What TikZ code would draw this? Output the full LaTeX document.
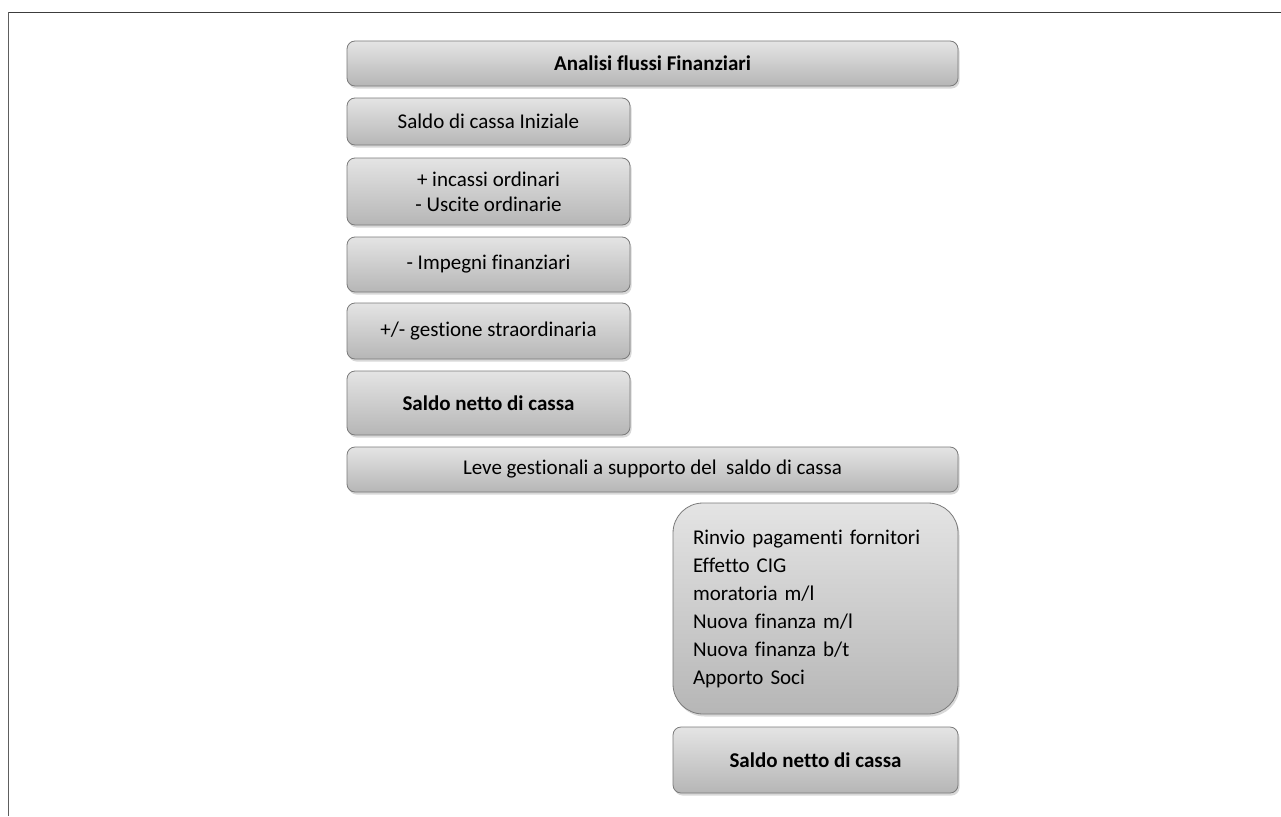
\documentclass[tikz,border=0pt]{standalone}
\usepackage{fontspec}
\setmainfont[Ligatures=NoCommon]{Carlito}
\usetikzlibrary{shadows}
\definecolor{boxtop}{HTML}{E4E4E4}
\definecolor{boxbot}{HTML}{B6B6B6}
\definecolor{boxline}{HTML}{7A7A7A}
\definecolor{framea}{HTML}{3C3C3C}
\definecolor{frameb}{HTML}{5E5E5E}
\tikzset{
  gbox/.style={rectangle, rounded corners=8pt, draw=boxline, line width=0.8pt,
    top color=boxtop, bottom color=boxbot, inner sep=0pt, outer sep=0pt,
    font=\fontsize{21}{25}\selectfont, align=center,
    drop shadow={opacity=0.3, shadow xshift=1.5pt, shadow yshift=-2.5pt}},
}
\begin{document}
\begin{tikzpicture}[x=1pt,y=-1pt]
\useasboundingbox[fill=white] (0,0) rectangle (1281,816);
\coordinate (fa) at (8.5,12.5);
\coordinate (fb) at (1281,12.5);
\coordinate (fc) at (8.5,816);
\draw[framea, line width=1.6pt] (fa) -- (fb);
\draw[frameb, line width=1.6pt] (fa) -- (fc);

\node[gbox, minimum width=611pt, minimum height=45pt] (title) at (652.5,63.5) {\bfseries Analisi flussi Finanziari};
\node[gbox, minimum width=283pt, minimum height=47pt] (s1) at (488.5,121.5) {Saldo di cassa Iniziale};
\node[gbox, minimum width=283pt, minimum height=67pt] (s2) at (488.5,191.5) {+ incassi ordinari\\- Uscite ordinarie};
\node[gbox, minimum width=283pt, minimum height=55pt] (s3) at (488.5,264.5) {- Impegni finanziari};
\node[gbox, minimum width=283pt, minimum height=56pt] (s4) at (488.5,331) {+/- gestione straordinaria};
\node[gbox, minimum width=283pt, minimum height=64pt] (s5) at (488.5,403) {\bfseries Saldo netto di cassa};
\node[gbox, minimum width=611pt, minimum height=45pt] (leve) at (652.5,469.5) {Leve gestionali a supporto del\ \ saldo di cassa};
\node[gbox, rounded corners=30pt, minimum width=285pt, minimum height=211pt, text width=245pt, align=left,
  font=\fontsize{21}{28}\selectfont] (leve2) at (815.5,608.5) {Rinvio pagamenti fornitori\\Effetto CIG\\moratoria m/l\\Nuova finanza m/l\\Nuova finanza b/t\\Apporto Soci};
\node[gbox, minimum width=285pt, minimum height=66pt] (s6) at (815.5,760) {\bfseries Saldo netto di cassa};
\end{tikzpicture}
\end{document}
